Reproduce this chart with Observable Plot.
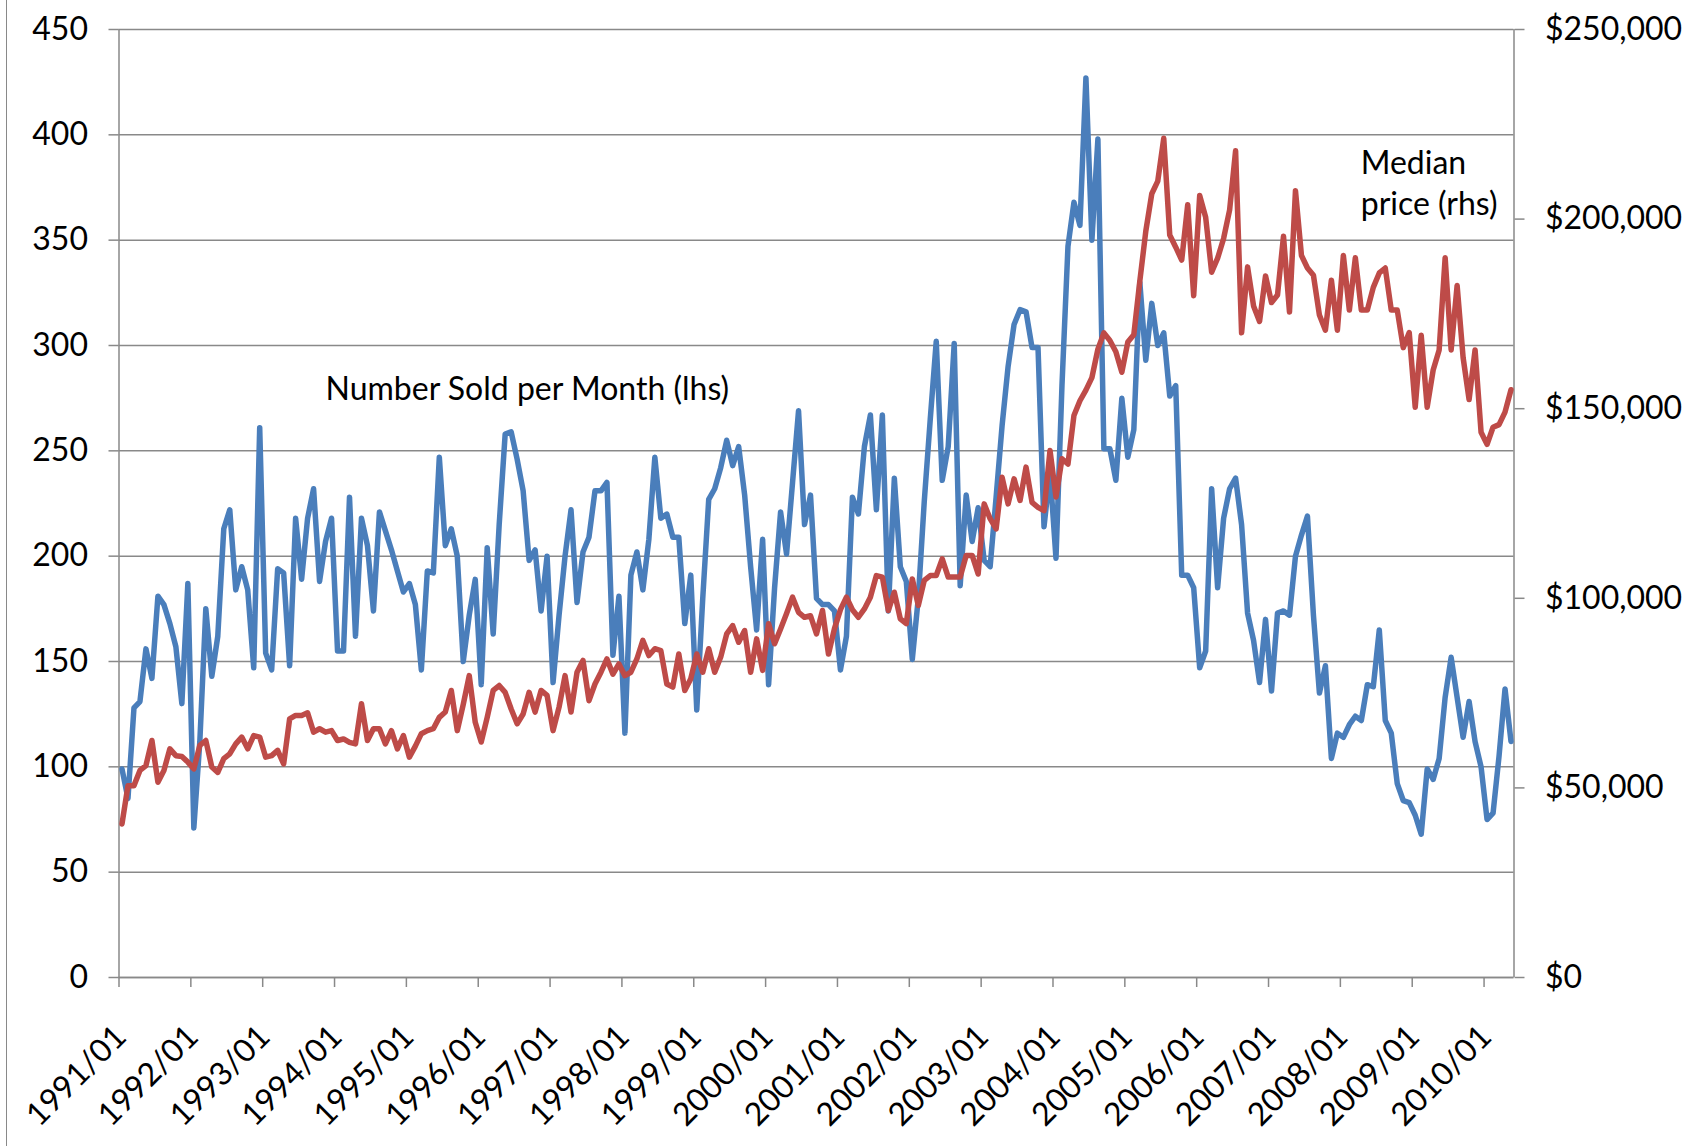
<!DOCTYPE html>
<html>
<head>
<meta charset="utf-8">
<script src="https://cdn.jsdelivr.net/npm/d3@7"></script>
<script src="https://cdn.jsdelivr.net/npm/@observablehq/plot@0.6"></script>
<style>
  html, body { margin: 0; padding: 0; background: #ffffff; }
  #wrap { position: relative; width: 1689px; height: 1147px; overflow: hidden; background: #ffffff; }
  #chart { position: absolute; left: 0; top: 0; }
  #border { position: absolute; left: 6px; top: 0; width: 0; height: 1146px; border-left: 1.5px solid #898989; z-index: 2; }
</style>
</head>
<body>
<div id="wrap"><div id="chart"></div><div id="border"></div></div>
<script>
// Number of houses sold per month (left axis), Jan 1991 .. May 2010, one row per year
const soldPerMonth = [
  99, 85, 128, 131, 156, 142, 181, 177, 168, 157, 130, 187,   // 1991
  71, 112, 175, 143, 162, 213, 222, 184, 195, 184, 147, 261,  // 1992
  154, 146, 194, 192, 148, 218, 189, 218, 232, 188, 207, 218, // 1993
  155, 155, 228, 162, 218, 205, 174, 221, 212, 203, 193, 183, // 1994
  187, 177, 146, 193, 192, 247, 205, 213, 200, 150, 172, 189, // 1995
  139, 204, 163, 215, 258, 259, 246, 231, 198, 203, 174, 200, // 1996
  140, 172, 200, 222, 178, 202, 209, 231, 231, 235, 153, 181, // 1997
  116, 191, 202, 184, 208, 247, 218, 220, 209, 209, 168, 191, // 1998
  127, 180, 227, 232, 242, 255, 243, 252, 229, 195, 165, 208, // 1999
  139, 185, 221, 201, 235, 269, 215, 229, 180, 177, 177, 174, // 2000
  146, 162, 228, 220, 252, 267, 222, 267, 174, 237, 195, 188, // 2001
  151, 180, 226, 265, 302, 236, 252, 301, 186, 229, 207, 223, // 2002
  198, 195, 228, 262, 290, 310, 317, 316, 299, 299, 214, 240, // 2003
  199, 281, 347, 368, 357, 427, 350, 398, 251, 251, 236, 275, // 2004
  247, 260, 330, 293, 320, 300, 306, 276, 281, 191, 191, 185, // 2005
  147, 155, 232, 185, 218, 232, 237, 215, 173, 160, 140, 170, // 2006
  136, 173, 174, 172, 200, 210, 219, 172, 135, 148, 104, 116, // 2007
  114, 120, 124, 122, 139, 138, 165, 122, 116, 92, 84, 83,    // 2008
  77, 68, 99, 94, 104, 133, 152, 133, 114, 131, 112, 100,     // 2009
  75, 78, 105, 137, 112                                       // 2010
];

// Median price in thousands of dollars (right axis), same months
const medianPriceK = [
  40.5, 50.6, 50.6, 54.6, 55.9, 62.5, 51.5, 54.6, 60.3, 58.5, 58.3, 56.8,          // 1991
  55, 61.2, 62.5, 55.5, 54.1, 57.7, 59, 61.6, 63.4, 60.3, 63.8, 63.4,              // 1992
  58.1, 58.5, 59.9, 56.3, 68.2, 69.1, 69.1, 69.8, 64.7, 65.6, 64.7, 65.1,          // 1993
  62.5, 62.9, 62, 61.6, 72.2, 62.5, 65.6, 65.6, 61.6, 65.1, 60.3, 63.8,            // 1994
  58.1, 61, 64.3, 65.1, 65.6, 68.6, 70, 75.7, 65.1, 72, 79.6, 67.3,                // 1995
  62.1, 68.6, 75.7, 77, 75.2, 70.8, 66.9, 69.5, 75.2, 70, 75.7, 74.4,              // 1996
  65.1, 71.3, 79.6, 70, 80.5, 83.6, 73, 77.4, 80.5, 84, 80, 82.7,                  // 1997
  79.6, 80.5, 84, 88.9, 84.9, 86.7, 86.2, 77.4, 76.6, 85.3, 75.7, 78.8,            // 1998
  85.3, 80.5, 86.7, 80.5, 84.5, 90.6, 92.8, 88.4, 91.5, 80.5, 89.3, 81,            // 1999
  93.3, 88, 91.9, 96, 100.3, 96.3, 95, 95.4, 90.6, 96.8, 85.3, 92,                 // 2000
  97, 100.3, 97, 95, 97.2, 100.3, 106, 105.6, 96.8, 101.6, 94.6, 93.3,             // 2001
  105.1, 98.1, 104.7, 106, 106, 110.4, 105.6, 105.6, 105.6, 111.3, 111.3, 106.4,   // 2002
  124.9, 121, 118.3, 131.9, 124.9, 131.5, 125.8, 134.6, 125.3, 124, 123.1, 139,    // 2003
  126.7, 136.8, 135.4, 148.2, 152.1, 154.9, 158.2, 165.7, 170, 168, 165, 159.6,    // 2004
  167.6, 169.5, 183.6, 196.8, 206.7, 210, 221.3, 195.8, 192.6, 189.2, 203.8, 179.8,// 2005
  206.2, 200.5, 186, 189.7, 194.9, 202.4, 218, 170, 187.4, 177.1, 173, 185,        // 2006
  178, 180, 195.5, 175.5, 207.5, 190.4, 187.1, 185.2, 174.7, 170.7, 183.9, 170.7,  // 2007
  190.4, 176, 189.8, 176, 176, 182, 185.8, 187.1, 176, 176, 166.1, 170.1,          // 2008
  150.4, 169.4, 150.4, 160.2, 165.5, 189.8, 165.5, 182.5, 163.5, 152.4, 165.5, 143.8, // 2009
  140.6, 145.1, 145.8, 149.1, 155                                                  // 2010
];

const firstYear = 1991;
const yearTickLabels = ["1991/01","1992/01","1993/01","1994/01","1995/01","1996/01","1997/01",
  "1998/01","1999/01","2000/01","2001/01","2002/01","2003/01","2004/01","2005/01","2006/01",
  "2007/01","2008/01","2009/01","2010/01"];
const leftTicks = [0, 50, 100, 150, 200, 250, 300, 350, 400, 450];
const rightTicksDollars = [0, 50000, 100000, 150000, 200000, 250000];
const leftMax = 450, rightMax = 250000;
const soldLabel = "Number Sold per Month (lhs)";
const priceLabel = "Median\nprice (rhs)";

// Monthly categories (index i sits in the middle of its month slot)
const nMonths = soldPerMonth.length;
const rows = soldPerMonth.map((v, i) => ({
  i,
  month: `${firstYear + Math.floor(i / 12)}/${String(i % 12 + 1).padStart(2, "0")}`,
  sold: v,
  price: medianPriceK[i] * 1000
}));
const toLeft = p => p / rightMax * leftMax;       // right-axis dollars -> left-axis units
const yearTicks = yearTickLabels.map((_, k) => k * 12);
const gray = "#898989";
const font = "Lato, 'Open Sans', sans-serif";

const chart = Plot.plot({
  width: 1689,
  height: 1147,
  marginLeft: 118.5,
  marginRight: 175.5,
  marginTop: 29,
  marginBottom: 170,
  style: { fontFamily: font, fontSize: "32px", color: "#000", background: "white", overflow: "visible" },
  x: { domain: [0, nMonths] },
  y: { domain: [0, leftMax] },
  marks: [
    Plot.gridY(leftTicks, { stroke: gray, strokeOpacity: 1, strokeWidth: 1.5 }),
    Plot.ruleX([0, nMonths], { stroke: gray, strokeWidth: 1.5 }),
    Plot.ruleY([0], { stroke: gray, strokeWidth: 1.5 }),
    Plot.axisY(leftTicks, {
      anchor: "left", tickSize: 10, tickPadding: 21, stroke: gray, strokeWidth: 1.5,
      fill: "#000", fontSize: 32, label: null, tickFormat: d => String(d)
    }),
    Plot.axisY(rightTicksDollars.map(toLeft), {
      anchor: "right", tickSize: 10, tickPadding: 21, stroke: gray, strokeWidth: 1.5,
      fill: "#000", fontSize: 32, label: null,
      tickFormat: d => "$" + d3.format(",")(Math.round(d / leftMax * rightMax))
    }),
    Plot.axisX(yearTicks, {
      anchor: "bottom", tickSize: 10, stroke: gray, strokeWidth: 1.5,
      tickFormat: () => "", label: null
    }),
    Plot.text(yearTicks, {
      x: d => d, frameAnchor: "bottom", text: (d, k) => yearTickLabels[k],
      rotate: -45, textAnchor: "end", lineAnchor: "middle",
      dx: 2, dy: 54, fontSize: 32, fill: "#000"
    }),
    Plot.line(rows, {
      x: d => d.i + 0.5, y: "sold", stroke: "#4A7EBB", strokeWidth: 5.5,
      strokeLinejoin: "round", strokeLinecap: "round"
    }),
    Plot.line(rows, {
      x: d => d.i + 0.5, y: d => toLeft(d.price), stroke: "#BE4B48", strokeWidth: 5.5,
      strokeLinejoin: "round", strokeLinecap: "round"
    }),
    Plot.text([soldLabel], {
      x: 34.5, y: 279, text: d => d, textAnchor: "start", lineAnchor: "middle",
      fontSize: 32, fill: "#000"
    }),
    Plot.text([priceLabel], {
      x: 207.4, y: 395.5, text: d => d, textAnchor: "start", lineAnchor: "top",
      lineHeight: 1.3, fontSize: 32, fill: "#000"
    })
  ]
});
document.getElementById("chart").appendChild(chart);
</script>
</body>
</html>
